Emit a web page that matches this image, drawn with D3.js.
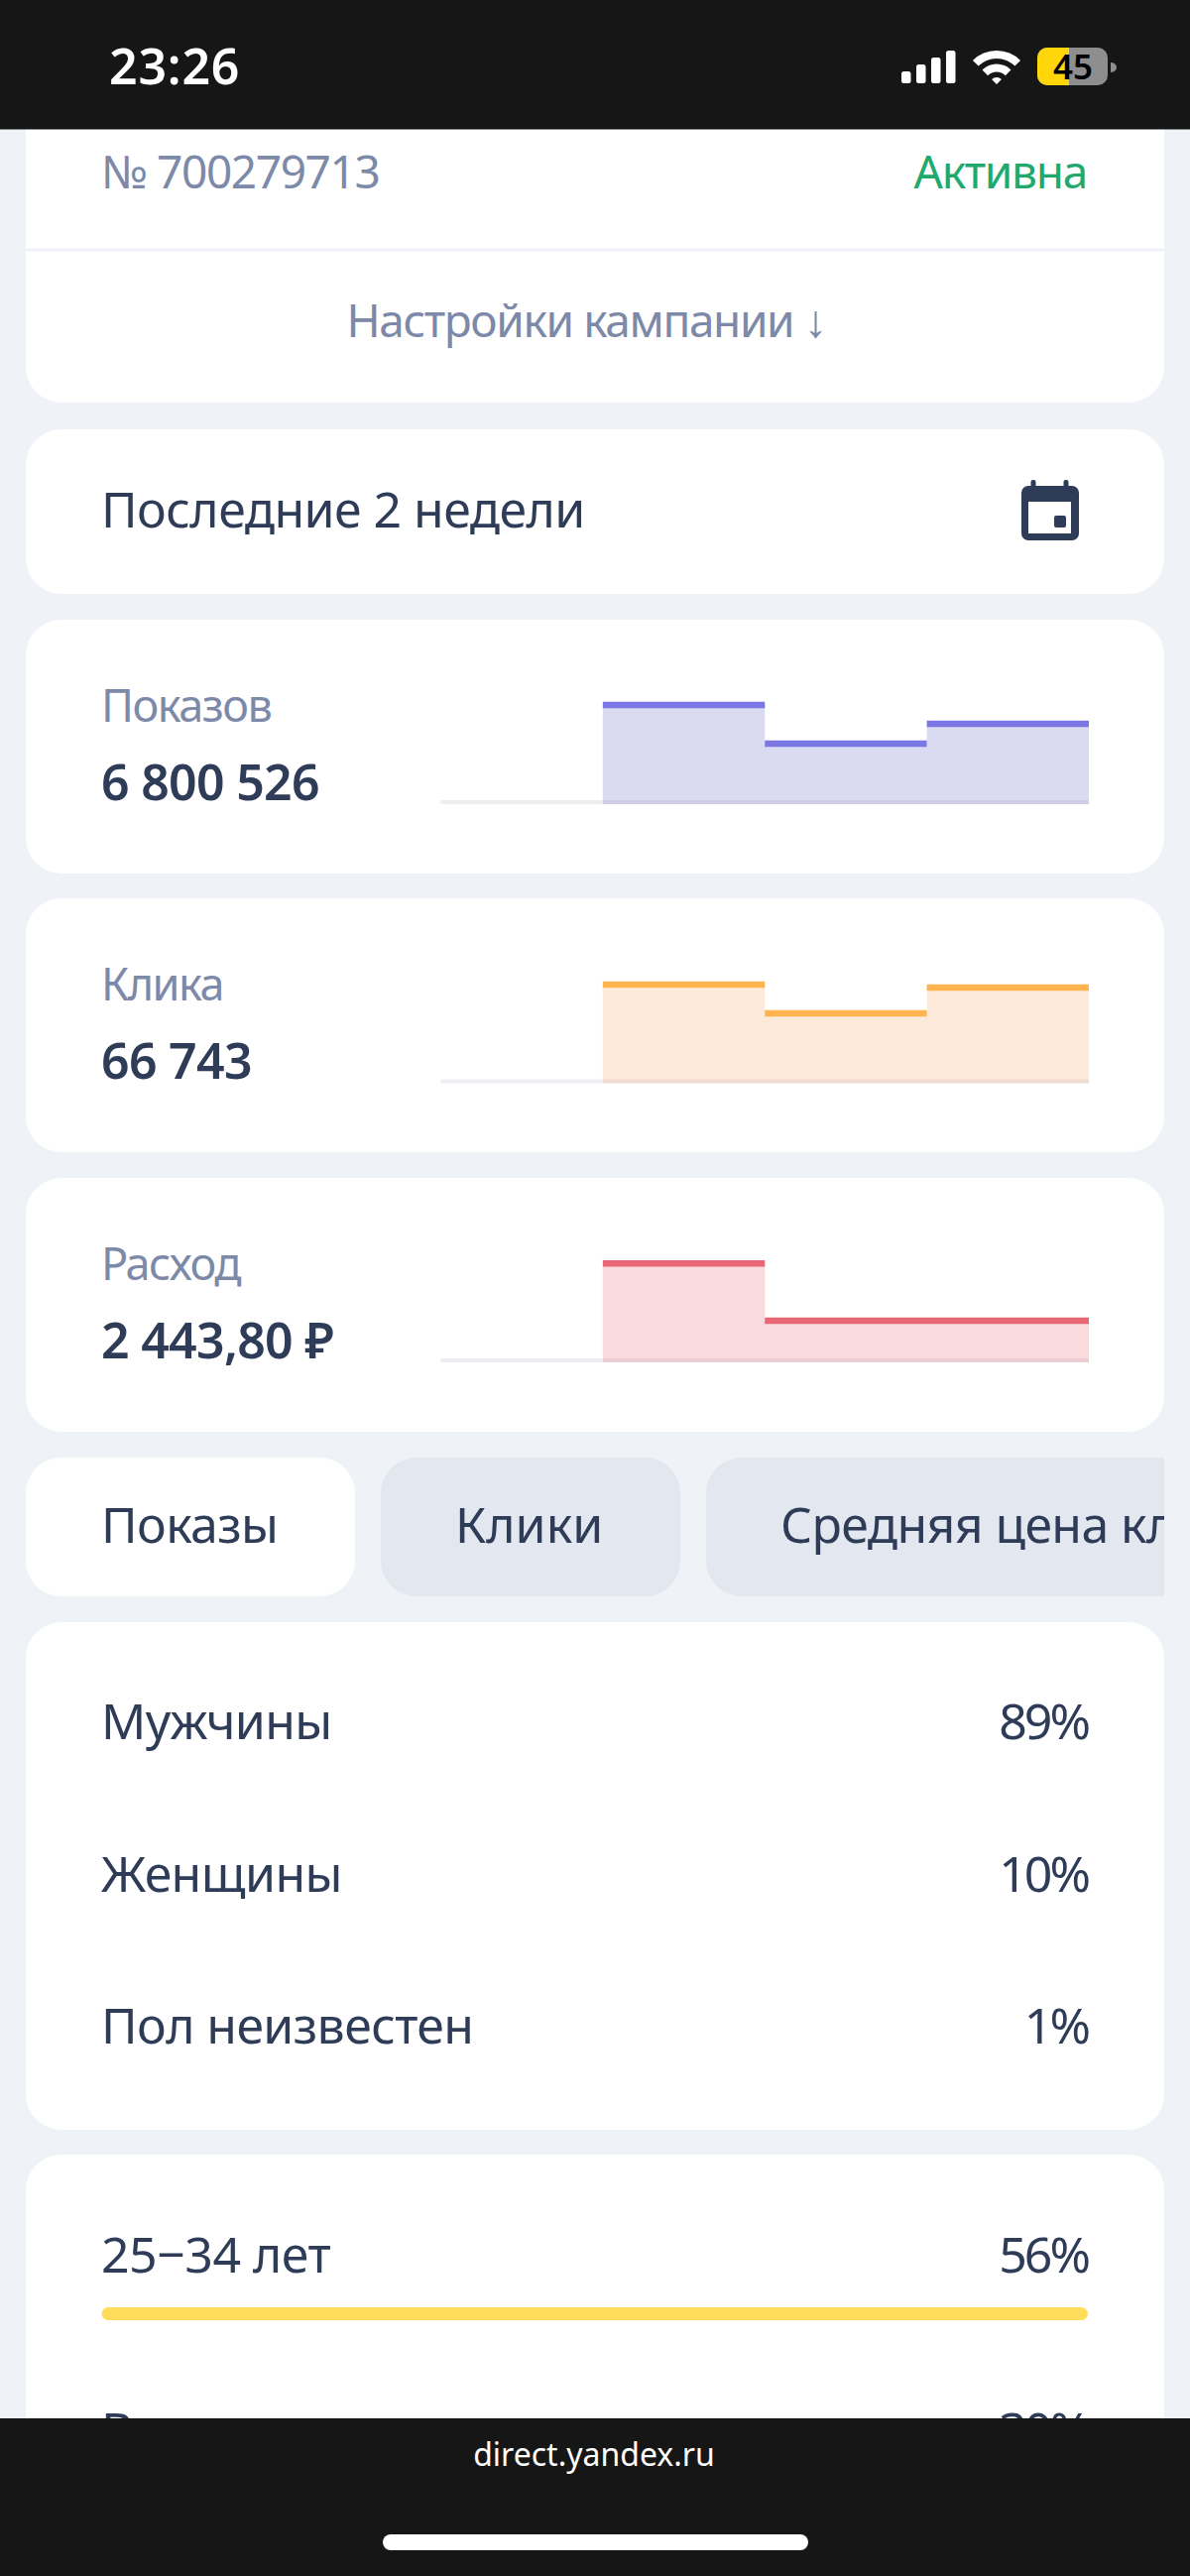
<!DOCTYPE html>
<html>
<head>
<meta charset="utf-8">
<script src="https://cdn.jsdelivr.net/npm/d3@7"></script>
<style>
html, body { margin: 0; padding: 0; background: #eff2f7; }
svg { display: block; }
text { font-family: "Noto Sans", sans-serif; }
</style>
</head>
<body>
<svg width="1200" height="2598"></svg>
<script>
// values, one per period of the sparkline
const periods = ["p1", "p2", "p3", "p4"];
const impressions = [0, 2824000, 1700000, 2276000];
const clicks = [0, 24980, 17570, 24190];
const spend = [0, 1344, 550, 550];

const metricLabels = ["Показов", "Клика", "Расход"];
const metricTotals = ["6 800 526", "66 743", "2 443,80 ₽"];

const tabLabels = ["Показы", "Клики", "Средняя цена кл"];
const tabSpacing = [-0.6, 0, -0.6];

const genderLabels = ["Мужчины", "Женщины", "Пол неизвестен"];
const genderValues = [89, 10, 1];

const ageLabels = ["25−34 лет", "Возраст неизвестен"];
const ageValues = [56, 30];

const dark = "#2f3c58";
const muted = "#7d89a8";
const cardRadius = 36;

const svg = d3.select("svg");

const label = (parent, str, x, y, opts = {}) =>
    parent.append("text")
        .attr("x", x)
        .attr("y", y)
        .attr("text-anchor", opts.anchor || "start")
        .attr("font-size", opts.size || 46)
        .attr("font-weight", opts.weight || 400)
        .attr("letter-spacing", opts.spacing || 0)
        .attr("fill", opts.fill || dark)
        .text(str);

const card = (y0, y1) =>
    svg.append("rect")
        .attr("x", 26)
        .attr("y", y0)
        .attr("width", 1148)
        .attr("height", y1 - y0)
        .attr("rx", cardRadius)
        .attr("fill", "#fff");

// header card, its top runs under the status bar
card(60, 406);
svg.append("rect").attr("x", 26).attr("y", 250.5).attr("width", 1148).attr("height", 3).attr("fill", "#eff2f7");
label(svg, "№ 700279713", 102, 190, { fill: muted, spacing: -1.4 });
label(svg, "Активна", 1096, 190, { fill: "#21a96d", anchor: "end", spacing: -1.3 });
label(svg, "Настройки кампании ↓", 591, 340, { fill: muted, anchor: "middle", spacing: -1.4 });

// period card
card(433, 599);
label(svg, "Последние 2 недели", 102, 532, { size: 50, spacing: -0.55 });
const cal = svg.append("g");
cal.append("rect").attr("x", 1030).attr("y", 490).attr("width", 58).attr("height", 55).attr("rx", 7).attr("fill", dark);
cal.selectAll(".peg").data([1042, 1075]).join("rect").attr("class", "peg")
    .attr("x", d => d - 2.5).attr("y", 484).attr("width", 5).attr("height", 10).attr("rx", 2).attr("fill", dark);
cal.append("rect").attr("x", 1037).attr("y", 506).attr("width", 43).attr("height", 32).attr("fill", "#fff");
cal.append("rect").attr("x", 1063).attr("y", 520).attr("width", 12).attr("height", 12).attr("rx", 2).attr("fill", dark);

// sparklines
const sparkX = d3.scaleLinear([0, periods.length], [444.5, 1098]);

// neighbouring periods with the same value share one segment
const runs = values => {
    const out = [];
    values.forEach((v, k) => {
        if (v <= 0) return;
        const last = out[out.length - 1];
        if (last && last[1][1] === v) last[1][0] = k + 1;
        else out.push([[k, v], [k + 1, v]]);
    });
    return out;
};

const sparkline = (values, cardTop, cardBottom, base, top, stroke, tint, i) => {
    card(cardTop, cardBottom);
    label(svg, metricLabels[i], 102, cardTop + 103, { size: 45, fill: muted, spacing: -1.5 });
    label(svg, metricTotals[i], 102, cardTop + 182, { size: 50, weight: 600, spacing: -0.7 });

    const y = d3.scaleLinear([0, d3.max(values)], [base, top]);
    const g = svg.append("g");
    g.append("rect")
        .attr("x", sparkX(0))
        .attr("y", y(0) - 2)
        .attr("width", sparkX(periods.length) - sparkX(0))
        .attr("height", 4)
        .attr("fill", "#edeef1");

    const stepped = values.concat(values[values.length - 1]);
    const area = d3.area()
        .defined(v => v > 0)
        .curve(d3.curveStepAfter)
        .x((v, k) => sparkX(k))
        .y0(y(0) + 2)
        .y1(y);
    g.append("path")
        .attr("d", area(stepped))
        .attr("fill", tint)
        .attr("fill-opacity", 0.28);

    const line = d3.line().x(d => sparkX(d[0])).y(d => y(d[1]));
    g.selectAll(".step")
        .data(runs(values))
        .join("path")
        .attr("class", "step")
        .attr("d", line)
        .attr("fill", "none")
        .attr("stroke", stroke)
        .attr("stroke-width", 6.5);
};

sparkline(impressions, 625, 881, 809, 711, "#7b78e6", "#7b7bc9", 0);
sparkline(clicks, 906, 1162, 1090.5, 993, "#ffb44f", "#fcb479", 1);
sparkline(spend, 1188, 1444, 1372, 1274.3, "#e76874", "#ea7b86", 2);

// tabs, the strip is cut off at the card edge
svg.append("clipPath").attr("id", "tabs-clip")
    .append("rect").attr("x", 26).attr("y", 1460).attr("width", 1148).attr("height", 160);
const tabs = svg.append("g").attr("clip-path", "url(#tabs-clip)");
const tabBoxes = [[26, 332], [384, 302], [712, 800]];
const tabTextX = [102, 459, 787];
tabs.selectAll("rect").data(tabBoxes).join("rect")
    .attr("x", d => d[0]).attr("y", 1470).attr("width", d => d[1]).attr("height", 140)
    .attr("rx", cardRadius)
    .attr("fill", (d, i) => i === 0 ? "#fff" : "#e3e7f0");
tabLabels.forEach((t, i) => label(tabs, t, tabTextX[i], 1556, { size: 50, spacing: tabSpacing[i] }));

// gender card
card(1636, 2148);
genderLabels.forEach((t, i) => {
    const rowY = 1754 + i * 153.5;
    label(svg, t, 102, rowY, { size: 50, spacing: -0.6 });
    label(svg, genderValues[i] + "%", 1097, rowY, { size: 50, anchor: "end", spacing: -3 });
});

// age card, runs under the browser bar
card(2173, 2600);
const ageX = d3.scaleLinear([0, d3.max(ageValues)], [0, 994.5]);
ageLabels.forEach((t, i) => {
    const rowY = 2292 + i * 177;
    label(svg, t, 102, rowY, { size: 50, spacing: -0.5 });
    label(svg, ageValues[i] + "%", 1097, rowY, { size: 50, anchor: "end", spacing: -3 });
    svg.append("rect")
        .attr("x", 102.5).attr("y", rowY + 35)
        .attr("width", ageX(ageValues[i])).attr("height", 13)
        .attr("rx", 6.5)
        .attr("fill", "#ffdc5a");
});

// status bar and browser bar
svg.append("rect").attr("width", 1200).attr("height", 130.5).attr("fill", "#161616");
svg.append("rect").attr("y", 2439).attr("width", 1200).attr("height", 159).attr("fill", "#161616");
label(svg, "23:26", 110, 85, { size: 50, weight: 600, fill: "#fff", spacing: 0.8 });
label(svg, "direct.yandex.ru", 599, 2487, { size: 32, fill: "#fff", anchor: "middle" });
svg.append("rect").attr("x", 386).attr("y", 2556).attr("width", 429).attr("height", 16).attr("rx", 8).attr("fill", "#fff");

// signal bars
const signalLevels = [12, 19, 26, 33];
svg.selectAll(".sig").data(signalLevels).join("rect").attr("class", "sig")
    .attr("x", (d, i) => 909 + i * 15).attr("y", d => 84 - d)
    .attr("width", 9.5).attr("height", d => d).attr("rx", 2.5).attr("fill", "#fff");

// wifi
const wifi = svg.append("g").attr("transform", "translate(1005,85)");
const wifiArc = d3.arc().startAngle(-Math.PI / 4).endAngle(Math.PI / 4);
[[26, 34], [12.5, 20.5], [0, 7]].forEach(r => {
    wifi.append("path")
        .attr("d", wifiArc({ innerRadius: r[0], outerRadius: r[1] }))
        .attr("fill", "#fff");
});

// battery
svg.append("clipPath").attr("id", "batt-clip")
    .append("rect").attr("x", 1046).attr("y", 48).attr("width", 71).attr("height", 38).attr("rx", 10);
const batt = svg.append("g").attr("clip-path", "url(#batt-clip)");
batt.append("rect").attr("x", 1046).attr("y", 48).attr("width", 71).attr("height", 38).attr("fill", "#8e8e8e");
batt.append("rect").attr("x", 1046).attr("y", 48).attr("width", 32).attr("height", 38).attr("fill", "#ffd60a");
label(svg, "45", 1082, 80, { size: 35, weight: 600, fill: "#000", anchor: "middle" });
svg.append("path").attr("d", "M1120,63 A6,5 0 0 1 1120,73 Z").attr("fill", "#8e8e8e");
</script>
</body>
</html>
